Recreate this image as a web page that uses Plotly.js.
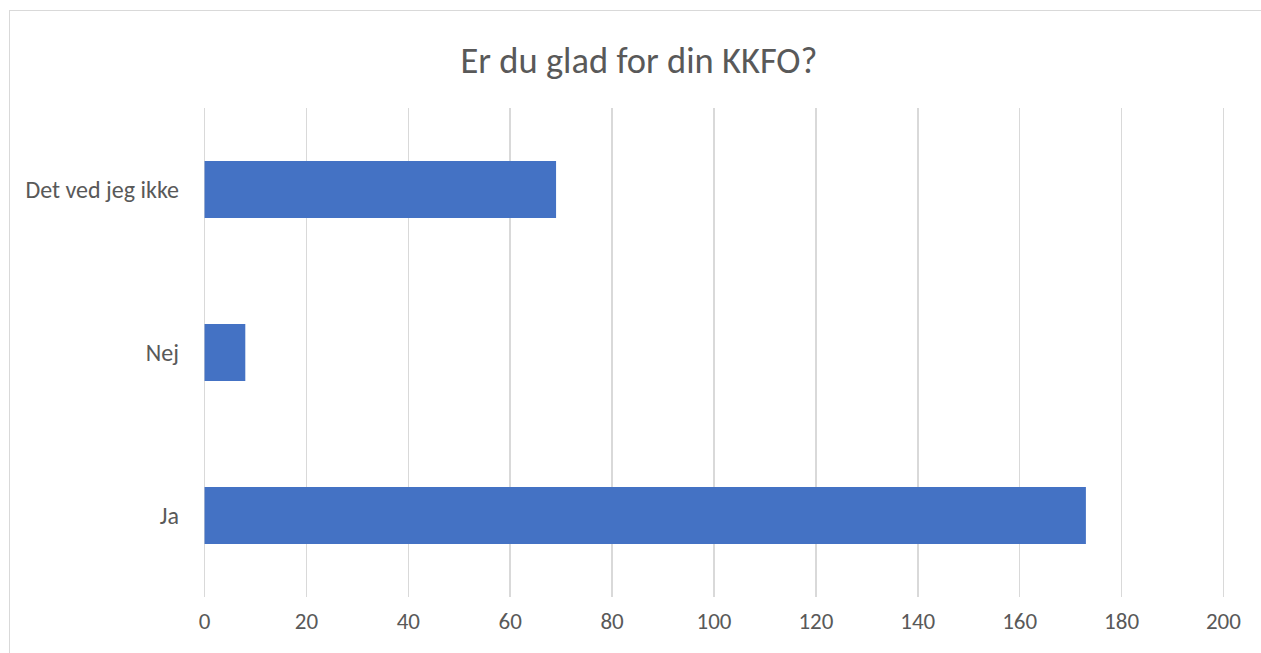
<!DOCTYPE html>
<html>
<head>
<meta charset="utf-8">
<script src="https://cdn.plot.ly/plotly-3.0.1.min.js"></script>
<style>
  html, body { margin: 0; padding: 0; background: #ffffff; overflow: hidden; }
  #frame { position: absolute; left: 9px; top: 10px; width: 1300px; height: 700px; border: 1.5px solid #d9d9d9; box-sizing: border-box; }
  #chart { position: absolute; left: 0; top: 0; width: 1261px; height: 653px; }
</style>
</head>
<body>
<div id="frame"></div>
<div id="chart"></div>
<script>
const categories = ["Ja", "Nej", "Det ved jeg ikke"];
const values = [173, 8, 69];
const tickValues = [0, 20, 40, 60, 80, 100, 120, 140, 160, 180, 200];
const chartTitle = "Er du glad for din KKFO?";

const font = "Carlito, Lato, 'Open Sans', sans-serif";

Plotly.newPlot("chart", [{
  type: "bar",
  orientation: "h",
  y: categories,
  x: values,
  marker: { color: "#4472c4" },
  hoverinfo: "x+y"
}], {
  width: 1261,
  height: 653,
  paper_bgcolor: "rgba(0,0,0,0)",
  plot_bgcolor: "rgba(0,0,0,0)",
  margin: { l: 201.5, r: 34.5, t: 108, b: 56 },
  bargap: 0.65,
  showlegend: false,
  title: {
    text: chartTitle,
    font: { family: font, size: 36.5, color: "#595959" },
    x: 639 / 1261, xanchor: "center", xref: "container",
    y: 1 - 60 / 653, yanchor: "middle", yref: "container"
  },
  xaxis: {
    range: [-0.5, 200.5],
    tickvals: tickValues,
    ticktext: tickValues.map(String),
    showgrid: true,
    gridcolor: "#d9d9d9",
    gridwidth: 1.5,
    zeroline: false,
    showline: false,
    ticks: "",
    tickfont: { family: font, size: 23, color: "#595959" },
    ticklabelstandoff: 8,
    fixedrange: true
  },
  yaxis: {
    showgrid: false,
    zeroline: false,
    showline: false,
    ticks: "",
    ticklabelstandoff: 22,
    tickfont: { family: font, size: 24, color: "#595959" },
    fixedrange: true
  }
}, { displayModeBar: false, staticPlot: true });
</script>
</body>
</html>
